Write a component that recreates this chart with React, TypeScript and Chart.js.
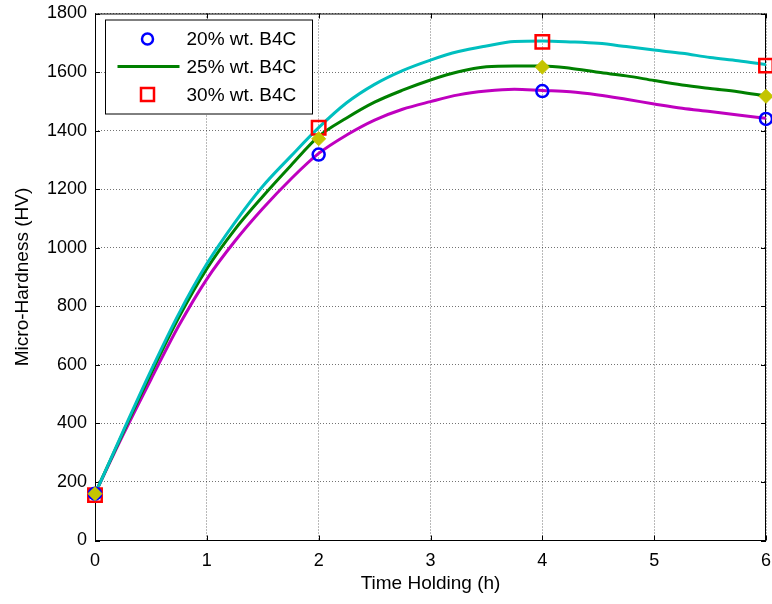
import React, { useEffect, useRef } from "react";
import { Chart, registerables } from "chart.js";

Chart.register(...registerables);

// Time axis (hours) for the smooth fitted curves
const hours = [0, 0.25, 0.5, 0.75, 1, 1.25, 1.5, 1.75, 2, 2.25, 2.5, 2.75, 3, 3.25, 3.5, 3.75, 4, 4.25, 4.5, 4.75, 5, 5.25, 5.5, 5.75, 6];

// Fitted curves
const curve20 = [160, 360, 550, 734, 893, 1022, 1134, 1234, 1322, 1385, 1436, 1473, 1499, 1522, 1535, 1541, 1537, 1533, 1522, 1507, 1491, 1476, 1465, 1453, 1442];
const curve25 = [160, 368, 570, 762, 928, 1062, 1175, 1280, 1380, 1443, 1497, 1538, 1573, 1601, 1618, 1621, 1621, 1613, 1599, 1587, 1571, 1556, 1544, 1533, 1518];
const curve30 = [158, 372, 580, 775, 945, 1086, 1210, 1312, 1410, 1495, 1558, 1605, 1641, 1670, 1689, 1704, 1706, 1703, 1698, 1687, 1675, 1664, 1650, 1639, 1626];

// Measured points
const measuredHours = [0, 2, 4, 6];
const measured20 = [160, 1318, 1535, 1440];
const measured25 = [160, 1372, 1617, 1517];
const measured30 = [155, 1410, 1703, 1622];

// Axis ticks
const xTicks = [0, 1, 2, 3, 4, 5, 6];
const yTicks = [0, 200, 400, 600, 800, 1000, 1200, 1400, 1600, 1800];

const legendLabels = ["20% wt. B4C", "25% wt. B4C", "30% wt. B4C"];

const FONT = "'Liberation Sans', Arial, Helvetica, sans-serif";

const toPts = (xs: number[], ys: number[]) => xs.map((x, i) => ({ x, y: ys[i] }));

const framePlugin = {
  id: "matlabFrame",
  beforeDatasetsDraw(chart: any) {
    const { ctx, chartArea: a, scales } = chart;
    ctx.save();
    ctx.strokeStyle = "#000";
    ctx.lineWidth = 1;
    ctx.strokeRect(a.left + 0.5, a.top + 0.5, a.right - a.left - 1, a.bottom - a.top - 0.5);
    const tl = 5;
    ctx.beginPath();
    xTicks.forEach((v) => {
      const px = Math.round(scales.x.getPixelForValue(v)) + 0.5;
      ctx.moveTo(px, a.bottom);
      ctx.lineTo(px, a.bottom - tl);
      ctx.moveTo(px, a.top);
      ctx.lineTo(px, a.top + tl);
    });
    yTicks.forEach((v) => {
      const py = Math.round(scales.y.getPixelForValue(v)) + 0.5;
      ctx.moveTo(a.left, py);
      ctx.lineTo(a.left + tl, py);
      ctx.moveTo(a.right, py);
      ctx.lineTo(a.right - tl, py);
    });
    ctx.stroke();
    ctx.restore();
  },
};

const legendPlugin = {
  id: "boxLegend",
  afterDraw(chart: any) {
    const { ctx, chartArea: a } = chart;
    const ds = chart.data.datasets;
    const bx = a.left + 10.5;
    const by = a.top + 6.5;
    const bw = 207;
    const bh = 94;
    ctx.save();
    ctx.fillStyle = "#fff";
    ctx.fillRect(bx, by, bw, bh);
    ctx.strokeStyle = "#000";
    ctx.lineWidth = 1;
    ctx.strokeRect(bx, by, bw, bh);
    const rows = [by + 19, by + 46.5, by + 74.5];
    const iconX = bx + 42;
    const textX = bx + 81;
    // row 1: blue circle (20%)
    const d20 = ds[1];
    ctx.lineWidth = 2.5;
    ctx.strokeStyle = d20.borderColor;
    ctx.beginPath();
    ctx.arc(iconX, rows[0], 5.5, 0, Math.PI * 2);
    ctx.stroke();
    // row 2: green line (25%)
    const d25 = ds[4];
    ctx.strokeStyle = d25.borderColor;
    ctx.lineWidth = 3;
    ctx.beginPath();
    ctx.moveTo(bx + 12, rows[1]);
    ctx.lineTo(bx + 74, rows[1]);
    ctx.stroke();
    // row 3: red square (30%)
    const d30 = ds[2];
    ctx.strokeStyle = d30.borderColor;
    ctx.lineWidth = 2.5;
    ctx.strokeRect(iconX - 6.5, rows[2] - 6.5, 13, 13);
    ctx.fillStyle = "#000";
    ctx.font = `19px ${FONT}`;
    ctx.textBaseline = "middle";
    ctx.textAlign = "left";
    legendLabels.forEach((t, i) => ctx.fillText(t, textX, rows[i] + 1));
    ctx.restore();
  },
};

export default function App() {
  const ref = useRef<HTMLCanvasElement>(null);
  useEffect(() => {
    const chart = new Chart(ref.current as HTMLCanvasElement, {
      type: "scatter",
      data: {
        datasets: [
          {
            label: "25% wt. B4C (measured)",
            data: toPts(measuredHours, measured25),
            showLine: false,
            pointStyle: "rectRot",
            pointRadius: 7,
            backgroundColor: "#C4C400",
            borderColor: "#C4C400",
            pointBorderWidth: 1,
            clip: false,
            order: 0,
          },
          {
            label: legendLabels[0],
            data: toPts(measuredHours, measured20),
            showLine: false,
            pointStyle: "circle",
            pointRadius: 6,
            backgroundColor: "rgba(0,0,0,0)",
            borderColor: "#0000FF",
            pointBorderWidth: 2.5,
            clip: false,
            order: 1,
          },
          {
            label: legendLabels[2],
            data: toPts(measuredHours, measured30),
            showLine: false,
            pointStyle: "rect",
            pointRadius: 9.5,
            backgroundColor: "rgba(0,0,0,0)",
            borderColor: "#FF0000",
            pointBorderWidth: 2.5,
            clip: false,
            order: 2,
          },
          {
            label: "30% fit",
            data: toPts(hours, curve30),
            showLine: true,
            pointRadius: 0,
            borderColor: "#00BFBF",
            borderWidth: 3,
            cubicInterpolationMode: "monotone",
            order: 3,
          },
          {
            label: legendLabels[1],
            data: toPts(hours, curve25),
            showLine: true,
            pointRadius: 0,
            borderColor: "#008000",
            borderWidth: 3,
            cubicInterpolationMode: "monotone",
            order: 4,
          },
          {
            label: "20% fit",
            data: toPts(hours, curve20),
            showLine: true,
            pointRadius: 0,
            borderColor: "#BF00BF",
            borderWidth: 3,
            cubicInterpolationMode: "monotone",
            order: 5,
          },
        ],
      },
      options: {
        responsive: false,
        animation: false,
        layout: { autoPadding: false, padding: { top: 13.5, right: 6, left: 0, bottom: 0 } },
        plugins: {
          legend: { display: false },
          tooltip: { enabled: false },
        },
        scales: {
          x: {
            type: "linear",
            min: 0,
            max: 6,
            afterFit: (s: any) => {
              s.height = 63.5;
              s.paddingLeft = 0;
              s.paddingRight = 0;
            },
            afterBuildTicks: (s: any) => {
              s.ticks = xTicks.map((v) => ({ value: v }));
            },
            ticks: {
              color: "#000",
              font: { family: FONT, size: 18 },
              padding: 10,
              maxRotation: 0,
              callback: (v: any) => String(v),
            },
            grid: { color: "rgba(0,0,0,0.55)", lineWidth: 1, drawTicks: false },
            border: { display: false, dash: [1, 2] },
            title: {
              display: true,
              text: "Time Holding (h)",
              color: "#000",
              font: { family: FONT, size: 19 },
              padding: { top: 4, bottom: 9 },
            },
          },
          y: {
            type: "linear",
            min: 0,
            max: 1800,
            afterFit: (s: any) => {
              s.width = 95;
              s.paddingTop = 0;
              s.paddingBottom = 0;
            },
            afterBuildTicks: (s: any) => {
              s.ticks = yTicks.map((v) => ({ value: v }));
            },
            ticks: {
              color: "#000",
              font: { family: FONT, size: 18 },
              padding: 8,
              callback: (v: any) => String(v),
            },
            grid: { color: "rgba(0,0,0,0.55)", lineWidth: 1, drawTicks: false },
            border: { display: false, dash: [1, 2] },
            title: {
              display: true,
              text: "Micro-Hardness (HV)",
              color: "#000",
              font: { family: FONT, size: 19 },
              padding: { top: 11.5, bottom: 4 },
            },
          },
        },
      },
      plugins: [framePlugin, legendPlugin],
    });
    return () => chart.destroy();
  }, []);
  return (
    <div style={{ position: "fixed", left: 0, top: 0, width: 772, height: 604, background: "#fff" }}>
      <canvas ref={ref} width={772} height={604} style={{ display: "block" }} />
    </div>
  );
}
